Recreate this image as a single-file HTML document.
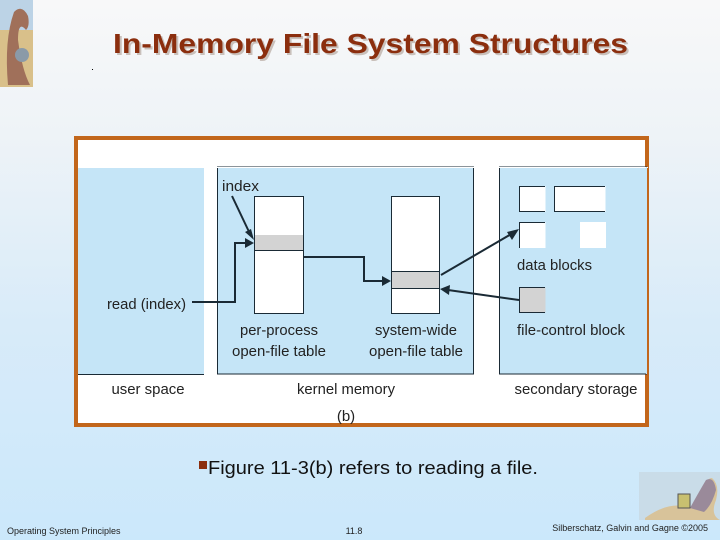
<!DOCTYPE html>
<html><head><style>
body{margin:0;width:720px;height:540px;overflow:hidden;background:linear-gradient(#f8f8f9 0%,#eef3f7 25%,#d8ebf9 60%,#cbe8fb 100%);font-family:"Liberation Sans",sans-serif;position:relative}
</style></head><body>
<svg width="720" height="540" style="position:absolute;left:0;top:0" font-family="Liberation Sans, sans-serif">
<rect x="0" y="0" width="33" height="87" fill="#d9c08a"/>
<rect x="0" y="0" width="33" height="30" fill="#bcd3e6"/>
<path d="M8 85 Q4 40 14 12 Q22 4 28 16 Q30 26 26 30 Q18 20 18 40 Q22 70 30 85Z" fill="#a0705a"/>
<circle cx="22" cy="55" r="7" fill="#8a9aa8"/>
<text x="115" y="55" font-size="28" font-weight="bold" fill="#c9c0bb" textLength="515" lengthAdjust="spacingAndGlyphs">In-Memory File System Structures</text>
<text x="113" y="53" font-size="28" font-weight="bold" fill="#8b2e0e" textLength="515" lengthAdjust="spacingAndGlyphs">In-Memory File System Structures</text>
<rect x="92" y="69" width="1" height="1" fill="#000"/>
<rect x="76" y="138" width="571" height="287" fill="#fff" stroke="#c2661b" stroke-width="4"/>
<rect x="78" y="167" width="126" height="207" fill="#c5e5f7"/>
<rect x="217.5" y="167" width="256" height="207" fill="#c5e5f7" stroke="#1a2a35" stroke-width="1"/>
<rect x="499.5" y="167" width="147" height="207" fill="#c5e5f7" stroke="#1a2a35" stroke-width="1"/>
<rect x="78" y="167" width="570" height="1" fill="#fff"/>
<line x1="78" y1="374.5" x2="204" y2="374.5" stroke="#1a2a35"/>
<line x1="646.5" y1="167" x2="646.5" y2="374" stroke="#c5e5f7"/>
<rect x="254.5" y="196.5" width="49" height="117" fill="#fff" stroke="#1a2a35"/>
<rect x="255" y="235" width="48" height="15" fill="#d3d3d3"/>
<line x1="255" y1="250.5" x2="303" y2="250.5" stroke="#1a2a35"/>
<rect x="391.5" y="196.5" width="48" height="117" fill="#fff" stroke="#1a2a35"/>
<rect x="392" y="272" width="47" height="16" fill="#d3d3d3"/>
<line x1="392" y1="271.5" x2="439" y2="271.5" stroke="#1a2a35"/>
<line x1="392" y1="288.5" x2="439" y2="288.5" stroke="#1a2a35"/>
<g fill="#fff" stroke="#1a2a35" stroke-width="1">
<rect x="519.5" y="186" width="26" height="26" stroke="none"/><line x1="519.5" y1="186" x2="519.5" y2="212"/><line x1="519.5" y1="186.5" x2="545" y2="186.5"/><line x1="519.5" y1="211.5" x2="545" y2="211.5"/>
<rect x="554.5" y="186" width="51" height="26" stroke="none"/><line x1="554.5" y1="186" x2="554.5" y2="212"/><line x1="554.5" y1="186.5" x2="605" y2="186.5"/><line x1="554.5" y1="211.5" x2="605" y2="211.5"/>
<rect x="519.5" y="222" width="26" height="26" stroke="none"/><line x1="519.5" y1="222" x2="519.5" y2="248"/><line x1="519.5" y1="222.5" x2="545" y2="222.5"/>
<rect x="580" y="222" width="26" height="26" stroke="none"/>
<rect x="519.5" y="287.5" width="26" height="25" fill="#d3d3d3" stroke="none"/><line x1="519.5" y1="287" x2="519.5" y2="313"/><line x1="519.5" y1="287.5" x2="545" y2="287.5"/><line x1="519.5" y1="312.5" x2="545" y2="312.5"/>
</g>
<g stroke="#1a2a35" stroke-width="2" fill="none">
<polyline points="192,302 235,302 235,243 248,243"/>
<polyline points="303,257 364,257 364,281 385,281"/>
<line x1="232" y1="196" x2="251" y2="236"/>
<line x1="441" y1="275" x2="513" y2="233"/>
<line x1="519" y1="300" x2="448" y2="290"/>
</g>
<g fill="#1a2a35">
<polygon points="254,243 245,238 245,248"/>
<polygon points="391,281 382,276 382,286"/>
<polygon points="254,240 245,232 251,229"/>
<polygon points="519,229 507,232 512,240"/>
<polygon points="440,289 450,285 449,295"/>
</g>
<g font-size="15" fill="#222">
<text x="222" y="191" textLength="37" lengthAdjust="spacingAndGlyphs">index</text>
<text x="107" y="309" textLength="79" lengthAdjust="spacingAndGlyphs">read (index)</text>
<text x="279" y="335" text-anchor="middle" textLength="78" lengthAdjust="spacingAndGlyphs">per-process</text>
<text x="279" y="356" text-anchor="middle" textLength="94" lengthAdjust="spacingAndGlyphs">open-file table</text>
<text x="416" y="335" text-anchor="middle" textLength="82" lengthAdjust="spacingAndGlyphs">system-wide</text>
<text x="416" y="356" text-anchor="middle" textLength="94" lengthAdjust="spacingAndGlyphs">open-file table</text>
<text x="517" y="270" textLength="75" lengthAdjust="spacingAndGlyphs">data blocks</text>
<text x="517" y="335" textLength="108" lengthAdjust="spacingAndGlyphs">file-control block</text>
<text x="148" y="394" text-anchor="middle" textLength="73" lengthAdjust="spacingAndGlyphs">user space</text>
<text x="346" y="394" text-anchor="middle" textLength="98" lengthAdjust="spacingAndGlyphs">kernel memory</text>
<text x="576" y="394" text-anchor="middle" textLength="123" lengthAdjust="spacingAndGlyphs">secondary storage</text>
<text x="346" y="421" text-anchor="middle">(b)</text>
</g>
<rect x="199" y="461" width="8" height="8" fill="#8b2e0e"/>
<text x="208" y="474" font-size="18" fill="#111" textLength="330" lengthAdjust="spacingAndGlyphs">Figure 11-3(b) refers to reading a file.</text>
<rect x="639" y="472" width="81" height="48" fill="#c9dce8"/>
<path d="M645 518 Q670 500 690 508 L700 495 Q705 478 712 478 Q720 485 716 500 Q710 515 720 520 L645 520Z" fill="#d8c39a"/>
<path d="M690 508 Q700 490 706 480 Q714 476 716 490 Q712 505 704 512Z" fill="#9a8a9a"/>
<rect x="678" y="494" width="12" height="14" fill="#c8c070" stroke="#555"/>
<text x="7" y="534" font-size="9" fill="#222">Operating System Principles</text>
<text x="354" y="534" font-size="9" fill="#222" text-anchor="middle">11.8</text>
<text x="708" y="531" font-size="9" fill="#222" text-anchor="end">Silberschatz, Galvin and Gagne ©2005</text>
</svg>
</body></html>
